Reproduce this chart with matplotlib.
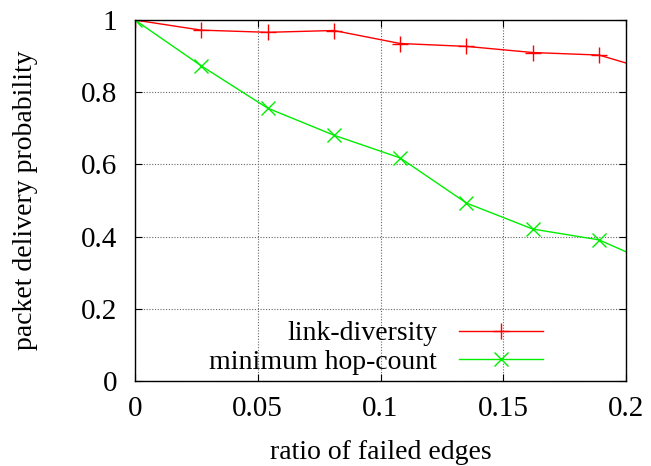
import matplotlib
matplotlib.use("Agg")
import matplotlib.pyplot as plt

# ratio of failed edges (last point lies past the right edge and is clipped)
ratio = [0.0, 0.027, 0.054, 0.081, 0.108, 0.135, 0.162, 0.189, 0.216]
link_diversity = [1.0, 0.972, 0.966, 0.971, 0.935, 0.927, 0.910, 0.903, 0.849]
min_hop_count = [1.0, 0.873, 0.756, 0.681, 0.618, 0.493, 0.421, 0.391, 0.31]

xticks = [0, 0.05, 0.1, 0.15, 0.2]
xtick_labels = ["0", "0.05", "0.1", "0.15", "0.2"]
yticks = [0, 0.2, 0.4, 0.6, 0.8, 1]
ytick_labels = ["0", "0.2", "0.4", "0.6", "0.8", "1"]

plt.rcParams["font.family"] = ["Liberation Serif", "DejaVu Serif"]

fig = plt.figure(figsize=(6.51, 4.66), dpi=100)
ax = fig.add_axes([0.2074, 0.1824, 0.7542, 0.7746])

ax.plot(ratio, link_diversity, color="#ff0000", lw=1.0, marker="+",
        ms=12, mew=1.0, label="link-diversity", clip_on=True)
ax.plot(ratio, min_hop_count, color="#00ee00", lw=1.0, marker="x",
        ms=10, mew=1.0, label="minimum hop-count", clip_on=True)

ax.set_xlim(0, 0.2)
ax.set_ylim(0, 1)
ax.set_xticks(xticks)
ax.set_xticklabels(xtick_labels)
ax.set_yticks(yticks)
ax.set_yticklabels(ytick_labels)
ax.tick_params(direction="in", top=True, right=True, labelsize=21,
               length=5, width=0.8)
ax.tick_params(axis="x", pad=11)
ax.tick_params(axis="y", pad=13)
ax.grid(True, color="#666666", linestyle=(0, (1, 1.5)), lw=0.8)
for s in ax.spines.values():
    s.set_linewidth(1.0)

ax.set_xlabel("ratio of failed edges", fontsize=20, labelpad=13)
ax.set_ylabel("packet delivery probability", fontsize=20, labelpad=31)

ax.legend(loc="lower right", frameon=False, markerfirst=False, fontsize=20,
          handlelength=3.0, handletextpad=0.8, labelspacing=0.1,
          borderaxespad=0.3, bbox_to_anchor=(0.87, -0.036))

fig.savefig("out.png", dpi=100, facecolor="white")
